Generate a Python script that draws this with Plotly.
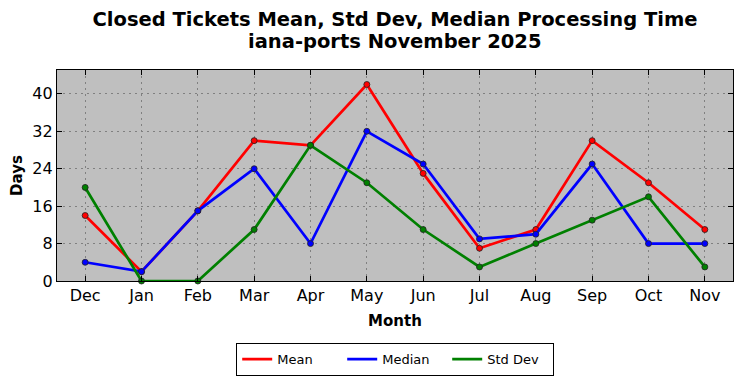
import plotly.graph_objects as go

months = ["Dec", "Jan", "Feb", "Mar", "Apr", "May", "Jun", "Jul", "Aug", "Sep", "Oct", "Nov"]
mean_vals = [14, 2, 15, 30, 29, 42, 23, 7, 11, 30, 21, 11]
median_vals = [4, 2, 15, 24, 8, 32, 25, 9, 10, 25, 8, 8]
std_vals = [20, 0, 0, 11, 29, 21, 11, 3, 8, 13, 18, 3]
y_ticks = [0, 8, 16, 24, 32, 40]

series = [("Mean", mean_vals, "#ff0000"), ("Median", median_vals, "#0000ff"), ("Std Dev", std_vals, "#008000")]

# page body has an 8px default margin; compensate so the figure lands where intended
OFF = 8
W, H = 742, 378
PLOT_TOP, PLOT_BOTTOM = 70, 281

fig = go.Figure()
xs = list(range(len(months)))
for name, vals, col in series:
    fig.add_trace(go.Scatter(
        x=xs, y=vals, mode="lines+markers", name=name, showlegend=False,
        line=dict(color=col, width=2.7),
        marker=dict(size=6, color=col, line=dict(color="#222222", width=0.8)),
        cliponaxis=False,
    ))
for name, vals, col in series:
    fig.add_trace(go.Scatter(
        x=[None], y=[None], mode="lines", name=name,
        line=dict(color=col, width=2.7),
    ))

axis_common = dict(
    showline=True, linecolor="black", linewidth=1.2, mirror="allticks",
    ticks="inside", ticklen=5, tickcolor="black",
    showgrid=True, gridcolor="#808080", griddash="2px,4px", gridwidth=1,
    zeroline=False, automargin=False,
    tickfont=dict(family="DejaVu Sans", size=16, color="black"),
)

fig.update_layout(
    width=W, height=H,
    margin=dict(l=57 - OFF, r=9 + OFF, t=PLOT_TOP - OFF, b=(H - PLOT_BOTTOM) + OFF),
    paper_bgcolor="white", plot_bgcolor="#bfbfbf",
    font=dict(family="DejaVu Sans", color="black"),
    title=dict(
        text="<b>Closed Tickets Mean, Std Dev, Median Processing Time</b>",
        x=(395 - OFF) / W, xanchor="center", xref="container",
        y=1 - (19 - OFF) / H, yanchor="middle", yref="container",
        font=dict(family="DejaVu Sans", size=19.5, color="black"),
    ),
    annotations=[dict(
        text="<b>iana-ports November 2025</b>",
        x=0.5, xanchor="center", xref="paper",
        y=1 + (PLOT_TOP - 41) / (PLOT_BOTTOM - PLOT_TOP), yanchor="middle", yref="paper",
        showarrow=False,
        font=dict(family="DejaVu Sans", size=19.5, color="black"),
    )],
    xaxis=dict(
        **axis_common,
        tickmode="array", tickvals=xs, ticktext=months,
        range=[-0.5, 11.5],
        title=dict(text="<b>Month</b>", font=dict(size=15), standoff=11),
    ),
    yaxis=dict(
        **axis_common,
        tickmode="array", tickvals=y_ticks,
        range=[0, 45.1],
        title=dict(text="<b>Days</b>", font=dict(size=15), standoff=6),
    ),
    legend=dict(
        orientation="h", x=(395 - OFF) / W, xanchor="center", xref="container",
        y=1 - (343 - OFF) / H, yanchor="top", yref="container",
        bordercolor="black", borderwidth=1.2, bgcolor="white",
        font=dict(family="DejaVu Sans", size=13, color="black"),
        entrywidth=60, itemwidth=30,
    ),
)

fig.write_html("out.html")
